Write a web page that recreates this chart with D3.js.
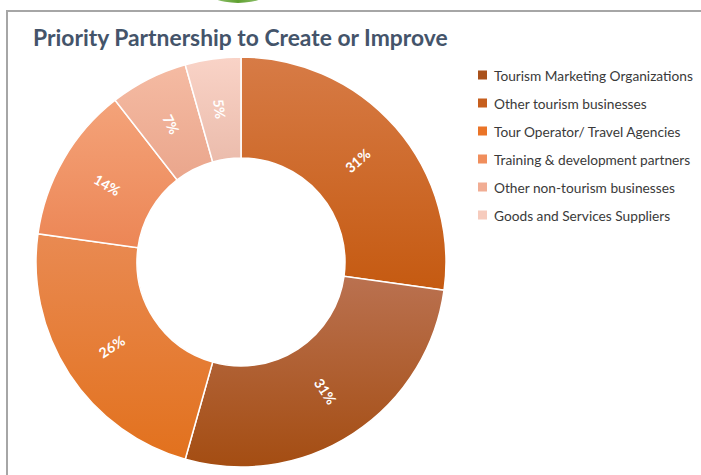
<!DOCTYPE html>
<html><head><meta charset="utf-8">
<script src="https://cdn.jsdelivr.net/npm/d3@7"></script>
<style>body{margin:0;background:#fff}svg{display:block}</style>
</head><body>
<svg id="c" width="701" height="475"></svg>
<script>
const title = "Priority Partnership to Create or Improve";
const categories = ["Tourism Marketing Organizations","Other tourism businesses","Tour Operator/ Travel Agencies","Training & development partners","Other non-tourism businesses","Goods and Services Suppliers"];
const values = [31, 31, 26, 14, 7, 5];
const labels = ["31%","31%","26%","14%","7%","5%"];
const sliceOrder = [1, 0, 2, 3, 4, 5]; // clockwise from 12 o'clock
const baseColors = ["#a44d12","#c55a11","#e2711d","#ec8655","#eaa68c","#ebbcac"];
const topColors  = ["#ba7150","#d77b46","#e98a52","#f4a37a","#f5bba3","#f9d3c7"];
const legendColors = ["#a9511b","#c65e1d","#ea7428","#f08e5c","#f1ad94","#f6cbbd"];

const svg = d3.select("#c");
const defs = svg.append("defs");
svg.append("line").attr("x1",6).attr("x2",701).attr("y1",11).attr("y2",11).attr("stroke","#a6a6a6").attr("stroke-width",2);
svg.append("line").attr("x1",7).attr("x2",7).attr("y1",10).attr("y2",475).attr("stroke","#a6a6a6").attr("stroke-width",2);
const gg = defs.append("linearGradient").attr("id","gg").attr("x1",0).attr("x2",1).attr("y1",0).attr("y2",0);
gg.append("stop").attr("offset","0").attr("stop-color","#a9d18e");
gg.append("stop").attr("offset","0.5").attr("stop-color","#5fa030");
gg.append("stop").attr("offset","1").attr("stop-color","#a9d18e");
svg.append("ellipse").attr("cx",238).attr("cy",-12).attr("rx",34).attr("ry",15).attr("fill","url(#gg)");

svg.append("text").attr("id","ttl").attr("x",33).attr("y",46)
  .attr("font-family","Lato, 'Open Sans', sans-serif").attr("font-weight","bold")
  .attr("font-size",22).attr("fill","#44546a").text(title);
const tn = document.getElementById("ttl");
const tw = tn.getComputedTextLength();
d3.select(tn).attr("font-size", 22*415/tw);

const cx = 241, cy = 262, rOut = 205, rIn = 104;
const data = sliceOrder.map(i => ({i, v: values[i]}));
const pie = d3.pie().value(d => d.v).sort(null);
const arc = d3.arc().innerRadius(rIn).outerRadius(rOut);
const arcs = pie(data);

categories.forEach((c, i) => {
  const g = defs.append("linearGradient").attr("id","g"+i).attr("x1",0).attr("x2",0).attr("y1",0).attr("y2",1);
  g.append("stop").attr("offset","0").attr("stop-color",topColors[i]);
  g.append("stop").attr("offset","1").attr("stop-color",baseColors[i]);
});

const G = svg.append("g").attr("transform",`translate(${cx},${cy})`);
G.selectAll("path").data(arcs).join("path")
  .attr("d", arc).attr("fill", d => `url(#g${d.data.i})`)
  .attr("stroke","#fff").attr("stroke-width",1.5);

const lr = (rIn + rOut) / 2;
G.selectAll("text.lbl").data(arcs).join("text").attr("class","lbl")
  .attr("transform", d => {
    const a = (d.startAngle + d.endAngle) / 2;
    const deg = a * 180 / Math.PI;
    const x = lr * Math.sin(a), y = -lr * Math.cos(a);
    const rot = deg < 180 ? deg - 90 : deg - 270;
    return `translate(${x},${y}) rotate(${rot})`;
  })
  .attr("text-anchor","middle").attr("dominant-baseline","central")
  .attr("font-family","Lato, sans-serif").attr("font-weight","bold").attr("font-size",14)
  .attr("fill","#fff").text(d => labels[d.data.i]);

const L = svg.append("g");
const legTexts = [];
categories.forEach((c, i) => {
  const y = 75 + i * 28;
  L.append("rect").attr("x",478).attr("y",y-4.5).attr("width",9).attr("height",9).attr("fill",legendColors[i]);
  legTexts.push(L.append("text").attr("x",494).attr("y",y).attr("dominant-baseline","central")
    .attr("font-family","Lato, sans-serif").attr("font-size",13).attr("fill","#3a3a3a").text(c));
});
const lw = legTexts[0].node().getComputedTextLength();
const fs = 13 * 199 / lw;
legTexts.forEach(t => t.attr("font-size", fs));
</script>
</body></html>
